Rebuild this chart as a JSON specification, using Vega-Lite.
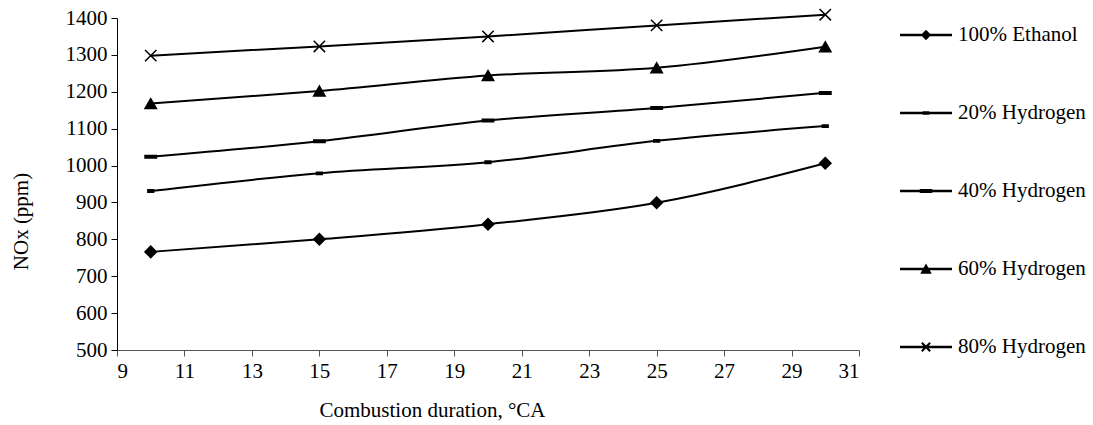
{
  "$schema": "https://vega.github.io/schema/vega-lite/v6.json",
  "width": 742,
  "height": 332,
  "padding": {"left": 10, "top": 5, "right": 5, "bottom": 5},
  "background": "white",
  "config": {
    "view": {"stroke": null},
    "font": "Liberation Serif",
    "axis": {
      "labelFont": "Liberation Serif",
      "titleFont": "Liberation Serif",
      "labelFontSize": 21,
      "titleFontSize": 21,
      "titleFontWeight": "normal",
      "labelColor": "#000",
      "titleColor": "#000",
      "grid": false,
      "tickSize": 6,
      "labelPadding": 4
    },
    "legend": {
      "labelFont": "Liberation Serif",
      "labelFontSize": 21,
      "labelColor": "#000"
    }
  },
  "data": {
    "values": [
      {"series": "100% Ethanol", "duration": 10, "nox": 766},
      {"series": "100% Ethanol", "duration": 15, "nox": 800},
      {"series": "100% Ethanol", "duration": 20, "nox": 841},
      {"series": "100% Ethanol", "duration": 25, "nox": 899},
      {"series": "100% Ethanol", "duration": 30, "nox": 1006},
      {"series": "20% Hydrogen", "duration": 10, "nox": 931},
      {"series": "20% Hydrogen", "duration": 15, "nox": 979},
      {"series": "20% Hydrogen", "duration": 20, "nox": 1009},
      {"series": "20% Hydrogen", "duration": 25, "nox": 1067},
      {"series": "20% Hydrogen", "duration": 30, "nox": 1107},
      {"series": "40% Hydrogen", "duration": 10, "nox": 1024},
      {"series": "40% Hydrogen", "duration": 15, "nox": 1066},
      {"series": "40% Hydrogen", "duration": 20, "nox": 1122},
      {"series": "40% Hydrogen", "duration": 25, "nox": 1156},
      {"series": "40% Hydrogen", "duration": 30, "nox": 1197},
      {"series": "60% Hydrogen", "duration": 10, "nox": 1168},
      {"series": "60% Hydrogen", "duration": 15, "nox": 1202},
      {"series": "60% Hydrogen", "duration": 20, "nox": 1244},
      {"series": "60% Hydrogen", "duration": 25, "nox": 1265},
      {"series": "60% Hydrogen", "duration": 30, "nox": 1322},
      {"series": "80% Hydrogen", "duration": 10, "nox": 1298},
      {"series": "80% Hydrogen", "duration": 15, "nox": 1323},
      {"series": "80% Hydrogen", "duration": 20, "nox": 1350},
      {"series": "80% Hydrogen", "duration": 25, "nox": 1380},
      {"series": "80% Hydrogen", "duration": 30, "nox": 1409}
    ]
  },
  "encoding": {
    "x": {
      "field": "duration",
      "type": "quantitative",
      "scale": {"domain": [9, 31], "nice": false, "zero": false},
      "axis": {
        "title": "Combustion duration, °CA",
        "values": [9, 11, 13, 15, 17, 19, 21, 23, 25, 27, 29, 31],
        "labelFontSize": 21,
        "titleFontSize": 21,
        "domainColor": "#555",
        "tickColor": "#555",
        "titleX": 315,
        "titleY": 60,
        "titleBaseline": "middle"
      }
    },
    "y": {
      "field": "nox",
      "type": "quantitative",
      "scale": {"domain": [500, 1400], "nice": false, "zero": false},
      "axis": {
        "title": "NOx (ppm)",
        "format": "d",
        "values": [500, 600, 700, 800, 900, 1000, 1100, 1200, 1300, 1400],
        "labelFontSize": 21,
        "titleFontSize": 21,
        "domainColor": "#000",
        "tickColor": "#000",
        "titleX": -96,
        "titleY": 203,
        "titleBaseline": "middle"
      }
    }
  },
  "layer": [
    {
      "mark": {"type": "line", "interpolate": "monotone", "color": "#000", "strokeWidth": 2},
      "encoding": {"detail": {"field": "series"}}
    },
    {
      "mark": {"type": "point", "filled": true, "color": "#000", "stroke": "#000", "strokeWidth": 1.5, "opacity": 1, "size": 130},
      "encoding": {
        "shape": {
          "field": "series",
          "type": "nominal",
          "scale": {
            "domain": ["100% Ethanol", "20% Hydrogen", "40% Hydrogen", "60% Hydrogen", "80% Hydrogen"],
            "range": [
              "diamond",
              "M-0.5,-0.2H0.5V0.2H-0.5Z",
              "M-1,-0.22H1V0.22H-1Z",
              "triangle-up",
              "M-1,-1L1,1M-1,1L1,-1"
            ]
          },
          "legend": null
        }
      }
    },
    {
      "mark": {"type": "point", "filled": true, "color": "#000", "opacity": 0},
      "encoding": {
        "shape": {
          "field": "series",
          "type": "nominal",
          "scale": {
            "domain": ["100% Ethanol", "20% Hydrogen", "40% Hydrogen", "60% Hydrogen", "80% Hydrogen"],
            "range": [
              "M-1,-0.05H1V0.05H-1Z M0,-0.2L0.2,0L0,0.2L-0.2,0Z",
              "M-1,-0.05H1V0.05H-1Z M-0.13,-0.07H0.13V0.07H-0.13Z",
              "M-1,-0.05H1V0.05H-1Z M-0.24,-0.08H0.24V0.08H-0.24Z",
              "M-1,-0.05H1V0.05H-1Z M0,-0.21L0.22,0.18L-0.22,0.18Z",
              "M-1,-0.05H1V0.05H-1Z M-0.132,-0.188L0.188,0.132L0.132,0.188L-0.188,-0.132Z M-0.132,0.188L-0.188,0.132L0.132,-0.188L0.188,-0.132Z"
            ]
          },
          "legend": {
            "title": null,
            "orient": "none",
            "legendX": 783,
            "legendY": -9,
            "padding": 0,
            "symbolSize": 2704,
            "symbolStrokeWidth": 0,
            "symbolFillColor": "#000",
            "symbolOpacity": 1,
            "rowPadding": 42,
            "labelOffset": 6,
            "labelFontSize": 21
          }
        }
      }
    }
  ],
  "resolve": {"scale": {"shape": "independent"}}
}
